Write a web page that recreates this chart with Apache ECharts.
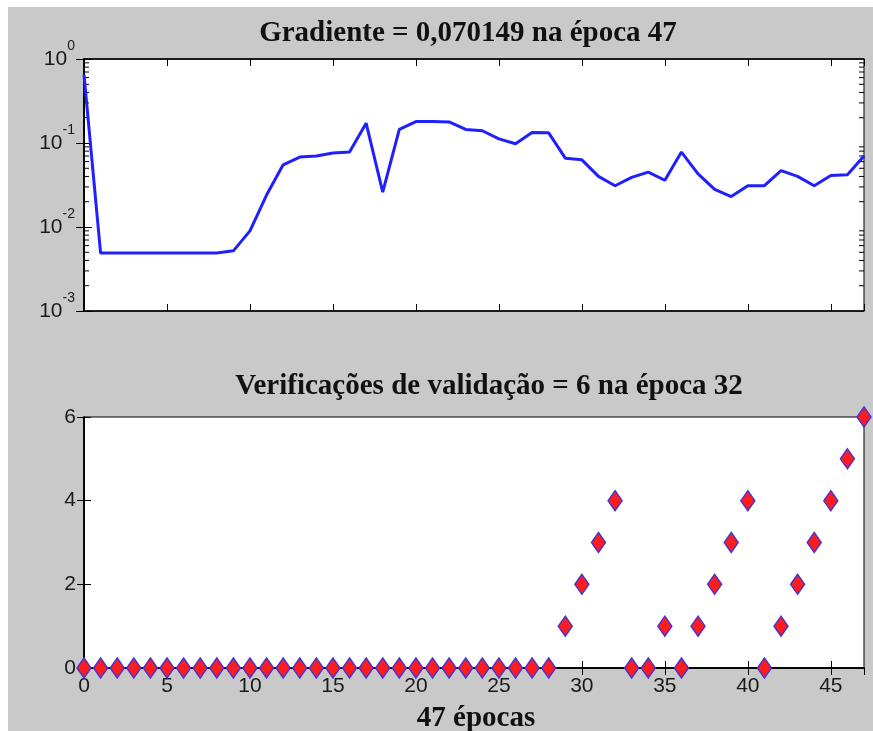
<!DOCTYPE html>
<html>
<head>
<meta charset="utf-8">
<script src="https://cdn.jsdelivr.net/npm/echarts@6/dist/echarts.min.js"></script>
<style>
  html, body { margin: 0; padding: 0; background: #fff; }
  #chart { position: absolute; left: 8px; top: 7px; width: 865px; height: 724px; }
</style>
</head>
<body>
<div id="chart"></div>
<script>
// gradiente por época (0..47), escala log
const gradiente = [
  0.65, 0.0049, 0.0049, 0.0049, 0.0049, 0.0049, 0.0049, 0.0049, 0.0049, 0.0052,
  0.0090, 0.024, 0.055, 0.068, 0.070, 0.076, 0.078, 0.172, 0.026, 0.145,
  0.180, 0.180, 0.178, 0.145, 0.140, 0.112, 0.098, 0.133, 0.132, 0.066,
  0.063, 0.040, 0.031, 0.039, 0.045, 0.036, 0.078, 0.043, 0.028, 0.023,
  0.031, 0.031, 0.047, 0.040, 0.031, 0.041, 0.042, 0.070149
]
// verificações de validação por época
const validacao = [
  0, 0, 0, 0, 0, 0, 0, 0, 0, 0,
  0, 0, 0, 0, 0, 0, 0, 0, 0, 0,
  0, 0, 0, 0, 0, 0, 0, 0, 0, 1,
  2, 3, 4, 0, 0, 1, 0, 1, 2, 3,
  4, 0, 1, 2, 3, 4, 5, 6
]
const tituloGradiente = 'Gradiente = 0,070149 na época 47'
const tituloValidacao = 'Verificações de validação = 6 na época 32'
const rotuloX = '47 épocas'
// ticks menores do eixo log
const mantissas = [2, 3, 4, 5, 6, 7, 8, 9]
const decadas = [-3, -2, -1]

const maxEpoca = gradiente.length - 1
const minorTicks = []
decadas.forEach(d => mantissas.forEach(m => minorTicks.push([0, m * Math.pow(10, d)])))

const labelFont = { fontFamily: 'Liberation Sans, Arial', color: '#1a1a1a' }
const titleFont = { fontFamily: 'Liberation Serif, Times New Roman', fontWeight: 'bold', fontSize: 29, color: '#111' }

const tickInside = (len) => ({ show: true, inside: true, length: len, lineStyle: { color: '#000', width: 1 } })
const eixo = { lineStyle: { color: '#000', width: 1.5 } }

const chart = echarts.init(document.getElementById('chart'))

const option = {
  backgroundColor: '#c9c9c9',
  animation: false,
  title: [
    { text: tituloGradiente, left: 455, top: 7, textAlign: 'center', textStyle: titleFont },
    { text: tituloValidacao, left: 476, top: 360, textAlign: 'center', textStyle: titleFont },
    { text: rotuloX, left: 463, top: 692, textAlign: 'center', textStyle: titleFont }
  ],
  grid: [
    { left: 76, right: 9, top: 52, height: 252, show: true, backgroundColor: '#fff', borderColor: '#000', borderWidth: 1 },
    { left: 76, right: 9, top: 410, height: 251, show: true, backgroundColor: '#fff', borderColor: '#000', borderWidth: 1 }
  ],
  xAxis: [
    { type: 'value', gridIndex: 0, min: 0, max: maxEpoca, interval: 5, position: 'bottom',
      axisLine: eixo, axisTick: tickInside(7), axisLabel: { show: false }, splitLine: { show: false } },
    { type: 'value', gridIndex: 0, min: 0, max: maxEpoca, interval: 5, position: 'top',
      axisLine: eixo, axisTick: tickInside(7), axisLabel: { show: false }, splitLine: { show: false } },
    { type: 'value', gridIndex: 1, min: 0, max: maxEpoca, interval: 5, position: 'bottom',
      axisLine: eixo, axisTick: tickInside(7),
      axisLabel: { ...labelFont, fontSize: 21, margin: 8, showMaxLabel: false }, splitLine: { show: false } },
    { type: 'value', gridIndex: 1, min: 0, max: maxEpoca, interval: 5, position: 'top',
      axisLine: eixo, axisTick: tickInside(7), axisLabel: { show: false }, splitLine: { show: false } }
  ],
  yAxis: [
    { type: 'log', gridIndex: 0, logBase: 10, min: 0.001, max: 1, position: 'left',
      axisLine: eixo, axisTick: tickInside(8), splitLine: { show: false },
      axisLabel: {
        margin: 9,
        formatter: v => '{b|10}{s|' + Math.round(Math.log10(v)) + '}',
        rich: {
          // "10" centrado no tick, expoente acima
          b: { ...labelFont, fontSize: 21, verticalAlign: 'bottom', padding: [0, 0, 9, 0] },
          s: { ...labelFont, fontSize: 14, verticalAlign: 'top', padding: [0, 0, 25, 0] }
        }
      } },
    { type: 'log', gridIndex: 0, logBase: 10, min: 0.001, max: 1, position: 'right',
      axisLine: eixo, axisTick: tickInside(8), axisLabel: { show: false }, splitLine: { show: false } },
    { type: 'value', gridIndex: 1, min: 0, max: 6, interval: 2, position: 'left',
      axisLine: eixo, axisTick: tickInside(7), splitLine: { show: false },
      axisLabel: { ...labelFont, fontSize: 21, margin: 8 } },
    { type: 'value', gridIndex: 1, min: 0, max: 6, interval: 2, position: 'right',
      axisLine: eixo, axisTick: tickInside(7), axisLabel: { show: false }, splitLine: { show: false } }
  ],
  series: [
    // curva do gradiente
    {
      type: 'line', xAxisIndex: 0, yAxisIndex: 0,
      data: gradiente.map((v, i) => [i, v]),
      symbol: 'none',
      lineStyle: { color: '#2020ff', width: 3 },
      z: 3
    },
    // ticks menores (esquerda e direita) do eixo log
    {
      type: 'custom', xAxisIndex: 0, yAxisIndex: 0,
      data: minorTicks,
      silent: true,
      renderItem: (params, api) => {
        const v = api.value(1)
        const a = api.coord([0, v])
        const b = api.coord([maxEpoca, v])
        const style = { stroke: '#000', lineWidth: 1 }
        return {
          type: 'group',
          children: [
            { type: 'line', shape: { x1: a[0], y1: a[1], x2: a[0] + 5, y2: a[1] }, style },
            { type: 'line', shape: { x1: b[0] - 5, y1: b[1], x2: b[0], y2: b[1] }, style }
          ]
        }
      }
    },
    // verificações de validação
    {
      type: 'scatter', xAxisIndex: 2, yAxisIndex: 2,
      data: validacao.map((v, i) => [i, v]),
      symbol: 'diamond',
      symbolSize: [14, 20],
      clip: false,
      itemStyle: { color: '#ff1c1c', borderColor: '#4a34d0', borderWidth: 1.5, opacity: 1 },
      z: 5
    }
  ]
}

chart.setOption(option)
</script>
</body>
</html>
